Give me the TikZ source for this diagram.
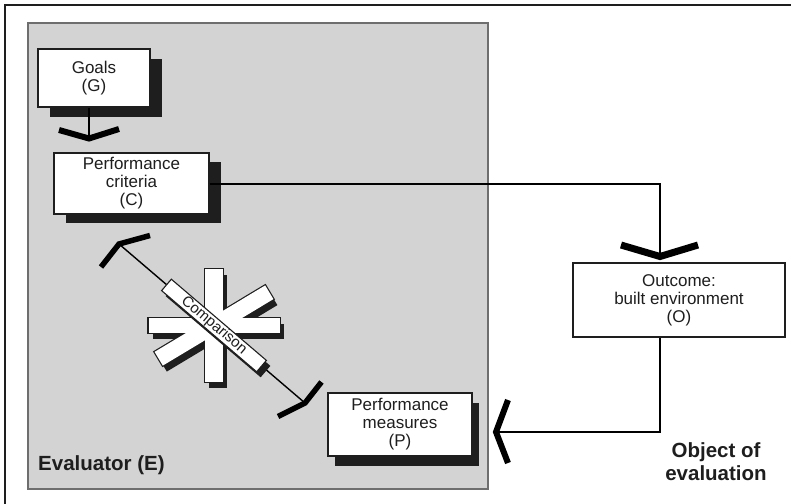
\documentclass[tikz,border=0pt]{standalone}
\usepackage{fontspec}
\setmainfont{Liberation Sans}
\usetikzlibrary{calc,shadows}
\definecolor{panel}{HTML}{D3D3D3}
\definecolor{ink}{HTML}{1E1E1E}
\definecolor{panelline}{HTML}{6E6E6E}
\begin{document}
\begin{tikzpicture}[x=1pt,y=-1pt,
  box/.style={draw=ink, line width=1.1pt, fill=white, inner sep=0pt, align=center,
              font=\fontsize{17}{18}\selectfont, text=ink},
  conn/.style={draw=black, line width=2pt},
  vhead/.style={draw=black, line width=6pt, miter limit=20},
  thinline/.style={draw=black, line width=1.4pt},
  lbl/.style={font=\bfseries\fontsize{20.5}{23}\selectfont, text=ink, align=center, inner sep=0pt},
  shad/.style={drop shadow={shadow xshift=#1, fill=ink, opacity=1}},
]
\useasboundingbox (0,0) rectangle (791,503);
\clip (0,0) rectangle (791,503);
\fill[white] (0,0) rectangle (791,503);
% outer frame
\draw[line width=2pt, draw=ink] (5,520) -- (5,5) -- (810,5);
% evaluator panel
\node[draw=panelline, fill=panel, line width=2pt, minimum width=460pt, minimum height=466pt,
      anchor=north west, inner sep=0pt] (E) at (27,22) {};
% boxes
\node[box, minimum width=112pt, minimum height=58pt,
      drop shadow={shadow xshift=12pt, shadow yshift=-10pt, fill=ink, opacity=1}] (G) at (94,78) {Goals\\(G)};
\node[box, minimum width=155pt, minimum height=61pt,
      drop shadow={shadow xshift=12pt, shadow yshift=-9pt, fill=ink, opacity=1}] (C) at (131.5,183.5) {Performance\\criteria\\(C)};
\node[box, minimum width=144pt, minimum height=63pt,
      drop shadow={shadow xshift=7pt, shadow yshift=-9.5pt, fill=ink, opacity=1}] (P) at (400,424.5) {Performance\\measures\\(P)};
\node[box, minimum width=212pt, minimum height=74pt] (O) at (679,300) {Outcome:\\built environment\\(O)};
% connectors
\coordinate (tipG) at (89,138.5);
\draw[conn] (tipG |- G.south) -- (tipG);
\draw[vhead] (59,130) -- (tipG) -- (119,129);
\coordinate (tipO) at (660,256.5);
\draw[conn] (C.east) -| (tipO);
\draw[vhead, line width=7pt] (621,245) -- (tipO) -- (698,245);
\coordinate (tipP) at (496,432);
\draw[conn] (tipO |- O.south) |- (tipP);
\draw[vhead] (508,400) -- (tipP) -- (508,463);
% comparison
\coordinate (cA) at (119,244);
\coordinate (cB) at (305,403);
\draw[thinline] (cA) -- (cB);
\draw[vhead, line width=5.5pt] (150,235.5) -- (cA) -- (101,267);
\draw[vhead, line width=5.5pt] (321.5,382) -- (cB) -- (278,416.5);
% asterisk shadow
\begin{scope}[shift={(218,331.5)}]
  \fill[ink] (-9,-56.5) rectangle (9,56.5);
  \fill[ink] (-65.5,-7.5) rectangle (65.5,7.5);
  \fill[ink, rotate=31] (-64.5,-8) rectangle (64.5,8);
\end{scope}
% asterisk outline and fill
\begin{scope}[shift={(214,325.5)}]
  \draw[ink, line width=2.4pt] (-9,-56.5) rectangle (9,56.5);
  \draw[ink, line width=2.4pt] (-65.5,-7.5) rectangle (65.5,7.5);
  \draw[ink, line width=2.4pt, rotate=31] (-64.5,-8) rectangle (64.5,8);
  \fill[white] (-9,-56.5) rectangle (9,56.5);
  \fill[white] (-65.5,-7.5) rectangle (65.5,7.5);
  \fill[white, rotate=31] (-64.5,-8) rectangle (64.5,8);
\end{scope}
% comparison box
\node[fill=ink, minimum width=125pt, minimum height=15pt, inner sep=0pt, rotate=-40.5] (cmpS) at (218,331) {};
\node[draw=ink, line width=1.1pt, fill=white, minimum width=125pt, minimum height=15pt, inner sep=0pt,
      rotate=-40.5, font=\fontsize{15}{15}\selectfont, text=ink] (cmp) at (214,325.5) {Comparison};
% labels
\node[lbl, anchor=base west] (EL) at (38,470) {Evaluator (E)};
\node[lbl] (OL) at (716,462) {Object of\\evaluation};
\end{tikzpicture}
\end{document}
